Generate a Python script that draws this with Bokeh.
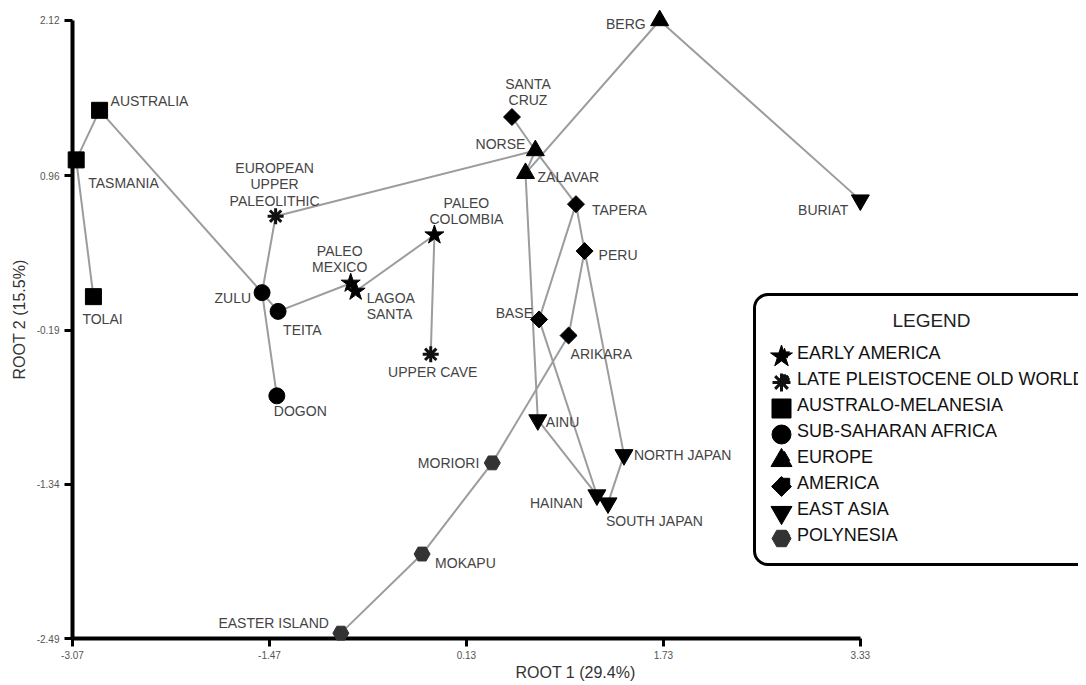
import math
import numpy as np
from bokeh.plotting import figure
from bokeh.models import (ColumnDataSource, FixedTicker, NumeralTickFormatter, Legend,
                          LegendItem, Range1d)
from bokeh.core.properties import value
from bokeh.embed import file_html
from bokeh.resources import INLINE

# ---------------- data ----------------
samples = ["AUSTRALIA", "TASMANIA", "TOLAI", "ZULU", "TEITA", "DOGON",
           "EUROPEAN UPPER PALEOLITHIC", "PALEO MEXICO", "LAGOA SANTA", "PALEO COLOMBIA",
           "UPPER CAVE", "SANTA CRUZ", "NORSE", "ZALAVAR", "BERG", "BURIAT", "TAPERA",
           "PERU", "BASE", "ARIKARA", "AINU", "NORTH JAPAN", "HAINAN", "SOUTH JAPAN",
           "MORIORI", "MOKAPU", "EASTER ISLAND"]
groups = ["AUSTRALO-MELANESIA", "AUSTRALO-MELANESIA", "AUSTRALO-MELANESIA",
          "SUB-SAHARAN AFRICA", "SUB-SAHARAN AFRICA", "SUB-SAHARAN AFRICA",
          "LATE PLEISTOCENE OLD WORLD", "EARLY AMERICA", "EARLY AMERICA", "EARLY AMERICA",
          "LATE PLEISTOCENE OLD WORLD", "AMERICA", "EUROPE", "EUROPE", "EUROPE",
          "EAST ASIA", "AMERICA", "AMERICA", "AMERICA", "AMERICA", "EAST ASIA",
          "EAST ASIA", "EAST ASIA", "EAST ASIA", "POLYNESIA", "POLYNESIA", "POLYNESIA"]
root1 = [-2.85, -3.04, -2.90, -1.53, -1.40, -1.41, -1.42, -0.81, -0.77, -0.13, -0.16,
         0.50, 0.69, 0.61, 1.70, 3.33, 1.02, 1.09, 0.72, 0.96, 0.71, 1.41, 1.19, 1.28,
         0.34, -0.23, -0.89]
root2 = [1.45, 1.08, 0.06, 0.09, -0.05, -0.68, 0.66, 0.16, 0.10, 0.52, -0.37,
         1.40, 1.15, 0.98, 2.12, 0.78, 0.75, 0.40, -0.11, -0.23, -0.86, -1.12, -1.42,
         -1.48, -1.18, -1.86, -2.45]
labels = ["AUSTRALIA", "TASMANIA", "TOLAI", "ZULU", "TEITA", "DOGON",
          "EUROPEAN\nUPPER\nPALEOLITHIC", "PALEO\nMEXICO", "LAGOA\nSANTA", "PALEO\nCOLOMBIA",
          "UPPER CAVE", "SANTA\nCRUZ", "NORSE", "ZALAVAR", "BERG", "BURIAT", "TAPERA",
          "PERU", "BASE", "ARIKARA", "AINU", "NORTH JAPAN", "HAINAN", "SOUTH JAPAN",
          "MORIORI", "MOKAPU", "EASTER ISLAND"]
edges = [("TASMANIA", "AUSTRALIA"), ("TASMANIA", "TOLAI"), ("AUSTRALIA", "ZULU"),
         ("ZULU", "TEITA"), ("ZULU", "EUROPEAN UPPER PALEOLITHIC"), ("ZULU", "DOGON"),
         ("TEITA", "PALEO MEXICO"), ("PALEO MEXICO", "LAGOA SANTA"),
         ("LAGOA SANTA", "PALEO COLOMBIA"), ("PALEO COLOMBIA", "UPPER CAVE"),
         ("EUROPEAN UPPER PALEOLITHIC", "NORSE"), ("ZALAVAR", "BERG"), ("NORSE", "ZALAVAR"),
         ("BERG", "BURIAT"), ("SANTA CRUZ", "NORSE"), ("NORSE", "TAPERA"),
         ("TAPERA", "PERU"), ("TAPERA", "BASE"), ("PERU", "ARIKARA"), ("PERU", "NORTH JAPAN"),
         ("ZALAVAR", "AINU"), ("BASE", "HAINAN"), ("AINU", "HAINAN"), ("HAINAN", "SOUTH JAPAN"),
         ("NORTH JAPAN", "SOUTH JAPAN"), ("ARIKARA", "MORIORI"), ("MORIORI", "MOKAPU"),
         ("MOKAPU", "EASTER ISLAND")]
legend_order = ["EARLY AMERICA", "LATE PLEISTOCENE OLD WORLD", "AUSTRALO-MELANESIA",
                "SUB-SAHARAN AFRICA", "EUROPE", "AMERICA", "EAST ASIA", "POLYNESIA"]
legend_title = "LEGEND"
x_ticks = [-3.07, -1.47, 0.13, 1.73, 3.33]
y_ticks = [-2.49, -1.34, -0.19, 0.96, 2.12]
x_title = "ROOT 1 (29.4%)"
y_title = "ROOT 2 (15.5%)"

# ---------------- label placement (screen px) ----------------
lab_dx = [11, 12, -11, -11, 5, -3, -1, -11, 11, 32, 2, 16, -10, 12, -14, -12, 16, 14,
          -6, 2, 8, 10, -14, -2, -13, 13, -12]
lab_dy = [-9, 23, 22, 5, 19, 15, -32, -24, 15, -24, 18, -25, -7, 4, 4, 10, 6, 4,
          -6, 18, 2, 0, 8, 18, 0, 9, -10]
lab_align = ["left", "left", "left", "right", "left", "left", "center", "center", "left",
             "center", "center", "center", "right", "left", "right", "right", "left", "left",
             "right", "left", "left", "left", "right", "left", "right", "left", "right"]

FONT = "Liberation Sans"
FW, FH = 1006, 638          # frame size in px

p = figure(frame_width=FW, frame_height=FH, output_backend="svg", toolbar_location=None,
           x_range=Range1d(-3.07, -3.07 + FW / 123.1),
           y_range=Range1d(-2.49, -2.49 + FH / 134.06),
           min_border_left=72, min_border_right=0, min_border_top=0, min_border_bottom=0,
           title=None)
p.extra_x_ranges = {"px": Range1d(0, FW)}
p.extra_y_ranges = {"px": Range1d(0, FH)}
p.grid.visible = False
p.outline_line_color = None
p.background_fill_color = "white"
p.border_fill_color = "white"

for ax, ticks, title in ((p.xaxis[0], x_ticks, x_title), (p.yaxis[0], y_ticks, y_title)):
    ax.ticker = FixedTicker(ticks=ticks)
    ax.formatter = NumeralTickFormatter(format="0.00")
    ax.bounds = (ticks[0], ticks[-1])
    ax.axis_line_width = 4
    ax.axis_line_color = "black"
    ax.major_tick_line_width = 3
    ax.major_tick_line_color = "black"
    ax.major_tick_out = 8
    ax.major_tick_in = 0
    ax.minor_tick_line_color = None
    ax.major_label_text_font = FONT
    ax.major_label_text_font_size = "10px"
    ax.major_label_text_color = "#555555"
    ax.axis_label = title
    ax.axis_label_text_font = FONT
    ax.axis_label_text_font_size = "16px"
    ax.axis_label_text_font_style = "normal"
    ax.axis_label_text_color = "#333333"
p.xaxis[0].major_label_standoff = 4
p.xaxis[0].axis_label_standoff = 2
p.yaxis[0].major_label_standoff = 5
p.yaxis[0].axis_label_standoff = 6

# ---------------- connecting lines ----------------
idx = {n: i for i, n in enumerate(samples)}
seg = ColumnDataSource(dict(
    x0=[root1[idx[a]] for a, b in edges], y0=[root2[idx[a]] for a, b in edges],
    x1=[root1[idx[b]] for a, b in edges], y1=[root2[idx[b]] for a, b in edges]))
p.segment("x0", "y0", "x1", "y1", source=seg, line_color="#9c9c9c", line_width=2)

# ---------------- labels ----------------
for al in ("left", "right", "center"):
    sel = [i for i in range(len(samples)) if lab_align[i] == al]
    src = ColumnDataSource(dict(x=[root1[i] for i in sel], y=[root2[i] for i in sel],
                                t=[labels[i] for i in sel], dx=[lab_dx[i] for i in sel],
                                dy=[lab_dy[i] for i in sel]))
    p.text("x", "y", text="t", x_offset="dx", y_offset="dy", source=src,
           text_align=al, text_baseline="middle", text_font=value(FONT),
           text_font_size="14px", text_color="#444444", text_line_height=1.02)

# ---------------- markers ----------------
style = {
    "EARLY AMERICA": dict(marker="star", size=20, fill_color="black", line_color="black"),
    "LATE PLEISTOCENE OLD WORLD": dict(marker="asterisk", size=16, line_color="#111111", line_width=3),
    "AUSTRALO-MELANESIA": dict(marker="square", size=16, fill_color="black", line_color="black"),
    "SUB-SAHARAN AFRICA": dict(marker="circle", size=16, fill_color="black", line_color="black"),
    "EUROPE": dict(marker="triangle", size=18, fill_color="black", line_color="black"),
    "AMERICA": dict(marker="square", size=12, angle=math.pi / 4, fill_color="black", line_color="black"),
    "EAST ASIA": dict(marker="inverted_triangle", size=18, fill_color="black", line_color="black"),
    "POLYNESIA": dict(marker="hex", size=16, fill_color="#333333", line_color="#333333"),
}
legend_size = {"EARLY AMERICA": 23, "LATE PLEISTOCENE OLD WORLD": 18, "AUSTRALO-MELANESIA": 19,
               "SUB-SAHARAN AFRICA": 19, "EUROPE": 21, "AMERICA": 14, "EAST ASIA": 21,
               "POLYNESIA": 19}
rends = {}
for g in legend_order:
    sel = [i for i in range(len(samples)) if groups[i] == g]
    src = ColumnDataSource(dict(x=[root1[i] for i in sel], y=[root2[i] for i in sel]))
    rends[g] = p.scatter("x", "y", source=src, level="overlay", **style[g])

# ---------------- legend ----------------
LX, LB = 681, 72                 # legend left / bottom inside the frame (px)
PAD, TITLE_H, ROW, GW = 15, 30, 26, 26
n = len(legend_order)
LH = 2 * PAD + TITLE_H + n * ROW

# white box behind the legend, larger legend symbols and the centred title
# (the legend itself is transparent so these show through)
p.block(x=[LX], y=[LB], width=[FW], height=[LH], x_range_name="px", y_range_name="px",
        fill_color="white", line_color=None, level="overlay")
top = LB + LH - PAD - TITLE_H
for k, g in enumerate(legend_order):
    st = dict(style[g])
    st["size"] = legend_size[g]
    p.scatter(x=[LX + PAD + GW / 2], y=[top - ROW / 2 - k * ROW], x_range_name="px",
              y_range_name="px", level="overlay", **st)
p.text(x=[LX + 178], y=[LB + LH - 22], text=[legend_title], x_range_name="px",
       y_range_name="px", level="overlay", text_align="center", text_baseline="middle",
       text_font=value(FONT), text_font_size="19px", text_color="#222222")

items = [LegendItem(label=g, renderers=[rends[g]]) for g in legend_order]
legend = Legend(items=items, location=(LX, LB), title=" ", title_text_font_size="18px",
                title_standoff=8, glyph_width=GW, glyph_height=ROW, label_height=ROW,
                spacing=0, padding=PAD, margin=0, label_standoff=0,
                label_text_font=FONT, label_text_font_size="18px", label_text_color="#111111",
                border_line_color="black", border_line_width=3, border_line_alpha=1.0,
                background_fill_alpha=0.0)
if hasattr(legend, "border_radius"):
    legend.border_radius = 15
p.add_layout(legend, "center")

open("out.html", "w").write(file_html(p, INLINE))
